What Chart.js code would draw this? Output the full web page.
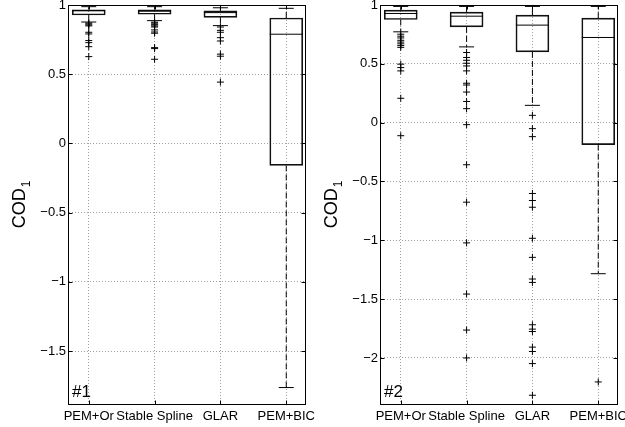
<!DOCTYPE html>
<html>
<head>
<meta charset="utf-8">
<script src="https://cdn.jsdelivr.net/npm/chart.js@4.4.1/dist/chart.umd.min.js"></script>
<style>
    html, body { margin: 0; padding: 0; background: #fff; overflow: hidden; width: 625px; height: 427px; }
    canvas { position: absolute; top: 0; }
    #chart1 { left: 0; }
    #chart2 { left: 312px; }
</style>
</head>
<body>
<canvas id="chart1" width="380" height="427"></canvas>
<canvas id="chart2" width="388" height="427"></canvas>
<script>
// ==================== DATA ====================
const methods = ['PEM+Or', 'Stable Spline', 'GLAR', 'PEM+BIC'];

// panel #1
const upper1  = [0.988, 0.988, 0.980, 0.976];
const q3_1    = [0.966, 0.966, 0.957, 0.906];
const median1 = [0.958, 0.955, 0.945, 0.789];
const q1_1    = [0.928, 0.933, 0.911, -0.159];
const lower1  = [0.877, 0.887, 0.851, -1.764];
const outPemOr1  = [0.870, 0.863, 0.856, 0.849, 0.803, 0.791, 0.743, 0.728, 0.699, 0.627];
const outSpline1 = [0.876, 0.870, 0.862, 0.856, 0.848, 0.841, 0.820, 0.805, 0.796, 0.692, 0.685, 0.608];
const outGlar1   = [0.841, 0.817, 0.803, 0.764, 0.740, 0.645, 0.630, 0.443];
const outPemBic1 = [];
const yTicks1 = [-1.5, -1, -0.5, 0, 0.5, 1];

// panel #2
const upper2  = [0.988, 0.988, 0.988, 0.988];
const q3_2    = [0.957, 0.940, 0.914, 0.888];
const median2 = [0.928, 0.905, 0.829, 0.724];
const q1_2    = [0.877, 0.814, 0.601, -0.187];
const lower2  = [0.772, 0.644, 0.147, -1.284];
const outPemOr2  = [0.752, 0.735, 0.720, 0.700, 0.685, 0.670, 0.655, 0.640, 0.497, 0.468, 0.440, 0.207, -0.111];
const outSpline2 = [0.596, 0.554, 0.530, 0.505, 0.482, 0.440, 0.335, 0.320, 0.260, 0.180, 0.119, -0.017,
                    -0.358, -0.676, -1.022, -1.457, -1.763, -2.000];
const outGlar2   = [0.062, -0.051, -0.119, -0.602, -0.662, -0.719, -0.983, -1.145, -1.329, -1.358,
                    -1.718, -1.755, -1.775, -1.908, -1.945, -2.048, -2.317];
const outPemBic2 = [-2.204];
const yTicks2 = [-2, -1.5, -1, -0.5, 0, 0.5, 1];

const FONT = '"Liberation Sans", Arial, Helvetica, sans-serif';

// ==================== PLUGIN: frame, inner ticks, labels ====================
const matlabAxes = {
    id: 'matlabAxes',
    afterDraw(chart, args, opts) {
        const ctx = chart.ctx;
        const { left, right, top, bottom } = chart.chartArea;
        const x = chart.scales.x, y = chart.scales.y;
        const l = Math.round(left) - 0.5, r = Math.round(right) - 0.5;
        const t = Math.round(top) + 0.5, b = Math.round(bottom) - 0.5;
        ctx.save();
        ctx.strokeStyle = '#000';
        ctx.lineWidth = 1;
        ctx.setLineDash([]);
        ctx.strokeRect(l, t, r - l, b - t);
        ctx.beginPath();
        y.ticks.forEach(tk => {
            const py = Math.round(y.getPixelForValue(tk.value)) + 0.5;
            ctx.moveTo(l, py); ctx.lineTo(l + 4, py);
            ctx.moveTo(r, py); ctx.lineTo(r - 4, py);
        });
        x.ticks.forEach(tk => {
            const px = Math.round(x.getPixelForValue(tk.value)) + 0.5;
            ctx.moveTo(px, b); ctx.lineTo(px, b - 4);
            ctx.moveTo(px, t); ctx.lineTo(px, t + 4);
        });
        ctx.stroke();

        // panel tag
        ctx.fillStyle = '#000';
        ctx.font = '17px ' + FONT;
        ctx.textAlign = 'left';
        ctx.textBaseline = 'alphabetic';
        ctx.fillText(opts.tag, left + 3, bottom - 8);

        // y title COD_1
        const cy = (top + bottom) / 2;
        ctx.translate(left - 44, cy);
        ctx.rotate(-Math.PI / 2);
        ctx.font = '18px ' + FONT;
        const w1 = ctx.measureText('COD').width;
        ctx.font = '12px ' + FONT;
        const w2 = ctx.measureText('1').width;
        const x0 = -(w1 + w2) / 2;
        ctx.font = '18px ' + FONT;
        ctx.fillText('COD', x0, 0);
        ctx.font = '12px ' + FONT;
        ctx.fillText('1', x0 + w1 + 1, 5);
        ctx.restore();
    }
};

function fmtTick(v) {
    return v < 0 ? '\u2212' + Math.abs(v) : String(v);
}

function makeBoxChart(id, st, outliers, yMin, yTicks, tag, padRight) {
    const ctx = document.getElementById(id).getContext('2d');
    const boxes = methods.map((m, i) => ({ x: i + 1, y: [st.q1[i], st.q3[i]] }));
    const medians = methods.map((m, i) => ({ x: i + 1, y: st.med[i] }));
    const caps = [];
    const whiskers = [];
    methods.forEach((m, i) => {
        caps.push({ x: i + 1, y: st.hi[i] }, { x: i + 1, y: st.lo[i] });
        whiskers.push(
            { x: i + 1, y: st.q3[i] }, { x: i + 1, y: st.hi[i] }, { x: i + 1, y: null },
            { x: i + 1, y: st.q1[i] }, { x: i + 1, y: st.lo[i] }, { x: i + 1, y: null }
        );
    });
    const outPts = [];
    outliers.forEach((list, i) => list.forEach(v => outPts.push({ x: i + 1, y: v })));

    return new Chart(ctx, {
        type: 'bar',
        data: {
            datasets: [
                {
                    type: 'scatter',
                    data: outPts,
                    pointStyle: 'cross',
                    radius: 3.5,
                    borderColor: '#000',
                    borderWidth: 1,
                    order: 1
                },
                {
                    type: 'scatter',
                    data: medians,
                    pointStyle: 'line',
                    radius: 16.5,
                    borderColor: '#000',
                    borderWidth: 1,
                    order: 2
                },
                {
                    type: 'scatter',
                    data: caps,
                    pointStyle: 'line',
                    radius: 7.5,
                    borderColor: '#000',
                    borderWidth: 1,
                    order: 3
                },
                {
                    type: 'bar',
                    data: boxes,
                    backgroundColor: 'rgba(0,0,0,0)',
                    borderColor: '#111',
                    borderWidth: 1,
                    borderSkipped: false,
                    barThickness: 33,
                    order: 4
                },
                {
                    type: 'line',
                    data: whiskers,
                    borderColor: '#000',
                    borderWidth: 1,
                    borderDash: [6, 3],
                    pointRadius: 0,
                    spanGaps: false,
                    fill: false,
                    order: 5
                }
            ]
        },
        options: {
            responsive: false,
            animation: false,
            events: [],
            layout: { autoPadding: false, padding: { top: 5, right: padRight, left: 0, bottom: 0 } },
            plugins: {
                legend: { display: false },
                tooltip: { enabled: false },
                matlabAxes: { tag: tag }
            },
            scales: {
                x: {
                    type: 'linear',
                    offset: false,
                    min: 0.7,
                    max: 4.3,
                    afterBuildTicks: axis => { axis.ticks = methods.map((m, i) => ({ value: i + 1 })); },
                    afterFit: scale => { scale.height = 22; },
                    ticks: {
                        callback: v => methods[v - 1],
                        autoSkip: false,
                        maxRotation: 0,
                        padding: 4,
                        color: '#000',
                        font: { family: FONT, size: 13 }
                    },
                    grid: { color: '#a0a0a0', drawTicks: false, lineWidth: 1, offset: false },
                    border: { display: false, dash: [1, 2] }
                },
                y: {
                    type: 'linear',
                    min: yMin,
                    max: 1,
                    afterBuildTicks: axis => { axis.ticks = yTicks.map(v => ({ value: v })); },
                    afterFit: scale => {
                        scale.width = 69;
                        scale.paddingTop = 0;
                        scale.paddingBottom = 0;
                    },
                    ticks: {
                        callback: v => fmtTick(v),
                        padding: 3,
                        color: '#000',
                        font: { family: FONT, size: 13 }
                    },
                    grid: { color: '#a0a0a0', drawTicks: false, lineWidth: 1 },
                    border: { display: false, dash: [1, 2] }
                }
            }
        },
        plugins: [matlabAxes]
    });
}

makeBoxChart('chart1',
    { hi: upper1, q3: q3_1, med: median1, q1: q1_1, lo: lower1 },
    [outPemOr1, outSpline1, outGlar1, outPemBic1],
    -1.89, yTicks1, '#1', 74);

makeBoxChart('chart2',
    { hi: upper2, q3: q3_2, med: median2, q1: q1_2, lo: lower2 },
    [outPemOr2, outSpline2, outGlar2, outPemBic2],
    -2.4, yTicks2, '#2', 82);
</script>
</body>
</html>
